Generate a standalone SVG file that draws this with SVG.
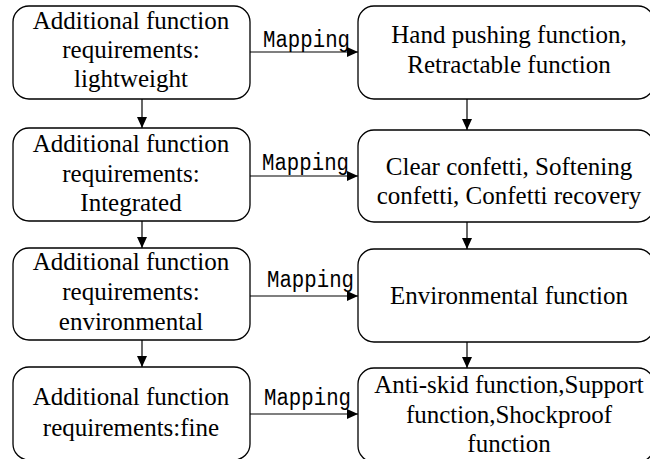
<svg xmlns="http://www.w3.org/2000/svg" width="650" height="459" viewBox="0 0 650 459">
<defs>
<style>
.box{fill:#fff;stroke:#000;stroke-width:1.3}
.t{font-size:25px;fill:#000;text-anchor:middle}
.m{font-size:23px;fill:#000}
.c{stroke:#000;stroke-width:1.2;fill:none}
</style>
<marker id="ah" markerWidth="11" markerHeight="10" refX="11" refY="5" orient="auto" markerUnits="userSpaceOnUse">
<path d="M0,0 L11,5 L0,10 Z" fill="#000"/>
</marker>
</defs>
<rect width="650" height="459" fill="#fff"/>
<g id="connectors" font-family="'Liberation Mono', 'DejaVu Sans Mono', monospace">
<line class="c" x1="250" y1="52" x2="358" y2="52" marker-end="url(#ah)"/>
<line class="c" x1="250" y1="176" x2="358" y2="176" marker-end="url(#ah)"/>
<line class="c" x1="250" y1="296" x2="358" y2="296" marker-end="url(#ah)"/>
<line class="c" x1="250" y1="414" x2="358" y2="414" marker-end="url(#ah)"/>
<line class="c" x1="142" y1="99" x2="142" y2="128" marker-end="url(#ah)"/>
<line class="c" x1="142" y1="221" x2="142" y2="248" marker-end="url(#ah)"/>
<line class="c" x1="142" y1="340" x2="142" y2="367" marker-end="url(#ah)"/>
<line class="c" x1="467" y1="99" x2="467" y2="130" marker-end="url(#ah)"/>
<line class="c" x1="467" y1="222" x2="467" y2="249" marker-end="url(#ah)"/>
<line class="c" x1="467" y1="342" x2="467" y2="368" marker-end="url(#ah)"/>
<text class="m" x="263" y="47" textLength="87" lengthAdjust="spacingAndGlyphs">Mapping</text>
<text class="m" x="262" y="170" textLength="87" lengthAdjust="spacingAndGlyphs">Mapping</text>
<text class="m" x="267" y="287" textLength="87" lengthAdjust="spacingAndGlyphs">Mapping</text>
<text class="m" x="264" y="405" textLength="87" lengthAdjust="spacingAndGlyphs">Mapping</text>
</g>
<g font-family="'Liberation Serif', 'DejaVu Serif', serif">
<g id="req1">
<rect class="box" x="13" y="6" width="237" height="93" rx="16"/>
<text class="t" x="131" y="29">Additional function</text>
<text class="t" x="131" y="58">requirements:</text>
<text class="t" x="131" y="87">lightweight</text>
</g>
<g id="req2">
<rect class="box" x="13" y="128" width="237" height="93" rx="16"/>
<text class="t" x="131" y="152">Additional function</text>
<text class="t" x="131" y="182">requirements:</text>
<text class="t" x="131" y="211">Integrated</text>
</g>
<g id="req3">
<rect class="box" x="13" y="248" width="237" height="92" rx="16"/>
<text class="t" x="131" y="270">Additional function</text>
<text class="t" x="131" y="300">requirements:</text>
<text class="t" x="131" y="330">environmental</text>
</g>
<g id="req4">
<rect class="box" x="13" y="367" width="237" height="93" rx="16"/>
<text class="t" x="131" y="405">Additional function</text>
<text class="t" x="131" y="436">requirements:fine</text>
</g>
<g id="fun1">
<rect class="box" x="358" y="6" width="296" height="93" rx="16"/>
<text class="t" x="509" y="43">Hand pushing function,</text>
<text class="t" x="509" y="73">Retractable function</text>
</g>
<g id="fun2">
<rect class="box" x="358" y="130" width="296" height="92" rx="16"/>
<text class="t" x="509" y="175">Clear confetti, Softening</text>
<text class="t" x="509" y="204">confetti, Confetti recovery</text>
</g>
<g id="fun3">
<rect class="box" x="358" y="249" width="296" height="93" rx="16"/>
<text class="t" x="509" y="304">Environmental function</text>
</g>
<g id="fun4">
<rect class="box" x="358" y="368" width="296" height="94" rx="16"/>
<text class="t" x="509" y="393">Anti-skid function,Support</text>
<text class="t" x="509" y="423">function,Shockproof</text>
<text class="t" x="509" y="452">function</text>
</g>
</g>
</svg>
